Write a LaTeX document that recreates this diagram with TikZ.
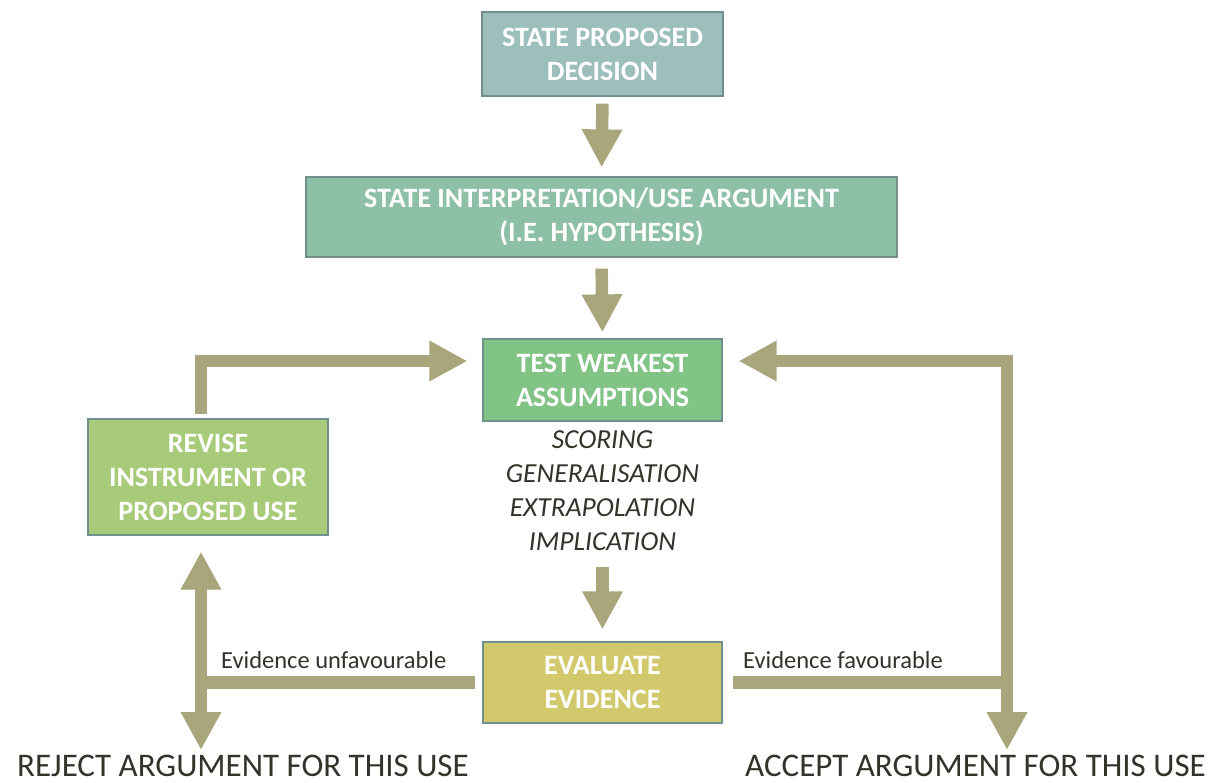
\documentclass[tikz,border=0pt]{standalone}
\usepackage{fontspec}
\setmainfont{Carlito}
\usetikzlibrary{arrows.meta}
\definecolor{flowc}{HTML}{A9A67C}
\definecolor{edgec}{HTML}{71908D}
\definecolor{inkc}{HTML}{33332B}
\definecolor{decidec}{HTML}{9DBFBC}
\definecolor{interpc}{HTML}{8EC0A7}
\definecolor{testc}{HTML}{82C386}
\definecolor{revisec}{HTML}{A8CB79}
\definecolor{evalc}{HTML}{D2C96D}
\begin{document}
\begin{tikzpicture}[x=1pt,y=-1pt,
  box/.style={draw=edgec, line width=1.2pt, text=white, align=center, inner sep=0pt,
    font=\fontsize{28}{34}\selectfont\bfseries},
  flow/.style={draw=flowc, line width=12.5pt, line join=miter,
    -{Triangle[width=38pt,length=38pt]}},
  note/.style={text=inkc, inner sep=0pt, font=\fontsize{24.5}{28}\selectfont},
  verdict/.style={text=inkc, inner sep=0pt, font=\fontsize{33}{40}\selectfont},
  steps/.style={text=inkc, inner sep=0pt, align=center, font=\fontsize{27.5}{34}\selectfont\itshape}]
\useasboundingbox (0,0) rectangle (1227,783);

% process boxes
\node[box, fill=decidec, minimum width=241pt, minimum height=84pt] (decide) at (602.5,54) {STATE PROPOSED\\DECISION};
\node[box, fill=interpc, minimum width=591pt, minimum height=80pt] (interp) at (601.5,217) {STATE INTERPRETATION/USE ARGUMENT\\(I.E. HYPOTHESIS)};
\node[box, fill=testc, minimum width=239pt, minimum height=82pt] (test) at (602.5,380) {TEST WEAKEST\\ASSUMPTIONS};
\node[box, fill=revisec, minimum width=240pt, minimum height=116pt] (revise) at (208,477) {REVISE\\INSTRUMENT OR\\PROPOSED USE};
\node[box, fill=evalc, minimum width=239pt, minimum height=81pt] (eval) at (602.5,682.5) {EVALUATE\\EVIDENCE};

% inferences under test
\node[steps] (assume) at (602.5,491) {SCORING\\GENERALISATION\\EXTRAPOLATION\\IMPLICATION};

% outcome labels
\node[note, anchor=base west] (unfav) at (221,668) {Evidence unfavourable};
\node[note, anchor=base west] (fav) at (743,668) {Evidence favourable};
\node[verdict, anchor=base west] (reject) at (17,776) {REJECT ARGUMENT FOR THIS USE};
\node[verdict, anchor=base west] (accept) at (745,776) {ACCEPT ARGUMENT FOR THIS USE};

% ends of the outcome arrows
\coordinate (lbot) at (201,750);
\coordinate (rbot) at (1007,750);

% main sequence
\draw[flow, shorten <=7pt, shorten >=9pt] (decide.south) -- (interp.north);
\draw[flow, shorten <=11pt, shorten >=6pt] (interp.south) -- (test.north);
\draw[flow, shorten <=145pt, shorten >=12pt] (test.south) -- (eval.north);

% unfavourable branch
\draw[flow, shorten <=7pt] (eval.west) -| (lbot);
\draw[flow, shorten >=16pt] (lbot |- eval.west) -- (lbot |- revise.south);
\draw[flow, shorten <=4pt, shorten >=15pt] (lbot |- revise.north) |- ([yshift=19pt]test.west);

% favourable branch
\draw[flow, shorten <=10pt] (eval.east) -| (rbot);
\draw[flow, shorten >=16pt] (rbot |- eval.east) |- ([yshift=19pt]test.east);
\end{tikzpicture}
\end{document}
